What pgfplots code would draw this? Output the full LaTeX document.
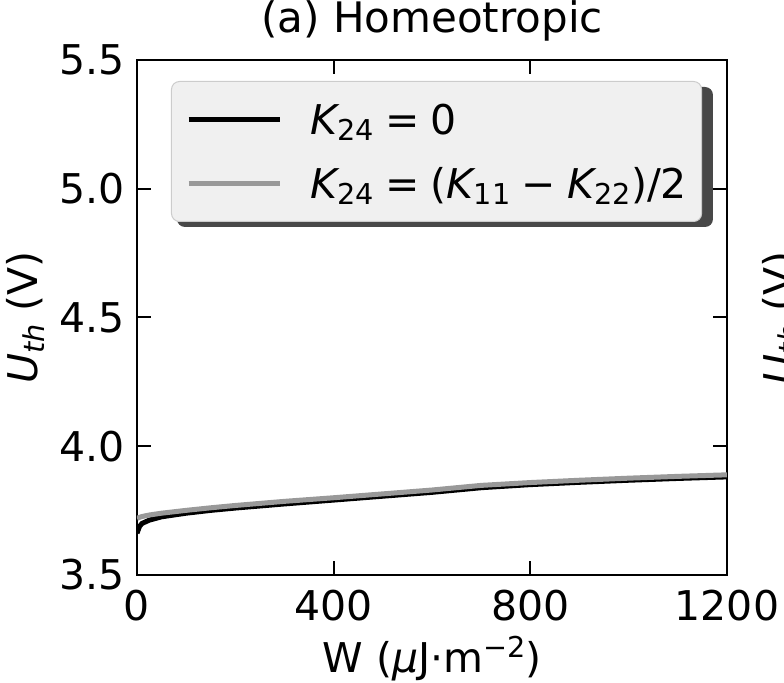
\documentclass[border=0pt]{standalone}
\usepackage{fontspec}
\setmainfont{DejaVu Sans}
\usepackage{pgfplots}
\usepackage{pgfplotstable}
\pgfplotsset{compat=1.18}

\definecolor{graycurve}{HTML}{999999}
\definecolor{legfill}{HTML}{F0F0F0}
\definecolor{legedge}{HTML}{CCCCCC}
\definecolor{legshadow}{HTML}{484848}

\newcommand{\sub}[1]{\raisebox{-0.16em}{\fontsize{14.35pt}{15pt}\selectfont #1}}
\newcommand{\supr}[1]{\raisebox{0.38em}{\fontsize{14.35pt}{15pt}\selectfont #1}}
\newcommand{\sep}{\hspace{0.28em}}

\pgfplotstableread{
W black gray
0    3.662 3.720
5    3.688 3.724
10   3.700 3.727
25   3.713 3.733
50   3.726 3.740
100  3.740 3.751
150  3.751 3.761
200  3.760 3.770
250  3.768 3.778
300  3.776 3.786
400  3.791 3.800
500  3.806 3.815
600  3.821 3.830
700  3.839 3.848
800  3.851 3.859
900  3.860 3.868
1000 3.868 3.876
1100 3.875 3.883
1200 3.881 3.889
}\datatable

\begin{document}
\begin{tikzpicture}[font=\fontsize{20.5pt}{24pt}\selectfont]
\useasboundingbox (0pt,0pt) rectangle (392pt,-341.5pt);
\begin{axis}[
  at={(68.5pt,-287.5pt)}, anchor=south west,
  width=295pt, height=257.5pt, scale only axis,
  xmin=0, xmax=1200, ymin=3.5, ymax=5.5,
  xtick={0,400,800,1200}, ytick={3.5,4.0,4.5,5.0,5.5},
  tick pos=both, xticklabel pos=left, yticklabel pos=left,
  tick align=inside, major tick length=7pt,
  minor tick num=0,
  axis line style={line width=1pt},
  every tick/.style={black, line width=1pt},
  /pgf/number format/assume math mode=true,
  /pgf/number format/1000 sep={},
  yticklabel style={/pgf/number format/fixed, /pgf/number format/fixed zerofill, /pgf/number format/precision=1},
  every x tick label/.append style={font=\fontsize{20.5pt}{24pt}\selectfont, inner sep=0pt, anchor=north, yshift=-7.5pt},
  every y tick label/.append style={font=\fontsize{20.5pt}{24pt}\selectfont, inner sep=0pt, anchor=east, xshift=-6pt},
  title={(a) Homeotropic},
  title style={at={(0.5,1)}, anchor=base, yshift=7.5pt, inner sep=0pt, font=\fontsize{21pt}{24pt}\selectfont},
  xlabel={W ({\itshape μ}J·m\supr{−2})},
  xlabel style={at={(0.5,0)}, anchor=base, yshift=-49pt, inner sep=0pt, font=\fontsize{20.5pt}{24pt}\selectfont},
  ylabel={{\itshape U}\sub{\itshape th} (V)},
  ylabel style={at={(0,0.5)}, anchor=base, yshift=49.5pt, inner sep=0pt, font=\fontsize{20.5pt}{24pt}\selectfont},
  legend cell align=left,
  legend image code/.code={\draw[#1] (0pt,0pt) -- (45.5pt,0pt);},
  legend style={
    at={(0,1)}, anchor=north west, xshift=17pt, yshift=-10.5pt,
    fill=legfill, draw=legedge, line width=0.5pt, rounded corners=4pt,
    inner xsep=7.35pt, inner ysep=11.6pt, row sep=17.2pt, column sep=14pt,
    nodes={inner sep=0pt, text height=14.8pt, text depth=0pt, font=\fontsize{20.5pt}{24pt}\selectfont},
  },
]
% legend shadow (decoration behind the legend box)
\fill[legshadow, rounded corners=4pt]
  ([xshift=20pt,yshift=-13.5pt]rel axis cs:0,1) rectangle ([xshift=288pt,yshift=-83.5pt]rel axis cs:0,1);
\addplot[black, line width=2.5pt] table[x=W, y=black] {\datatable};
\addlegendentry{{\itshape K}\sub{24}\sep=\sep0}
\addplot[graycurve, line width=2.5pt] table[x=W, y=gray] {\datatable};
\addlegendentry{{\itshape K}\sub{24}\sep=\sep({\itshape K}\sub{11}\sep−\sep{\itshape K}\sub{22})/2}
\end{axis}
\node[rotate=90, anchor=base, inner sep=0pt] at (396.5pt,-159pt) {{\itshape U}\sub{\itshape th} (V)};
\end{tikzpicture}
\end{document}
